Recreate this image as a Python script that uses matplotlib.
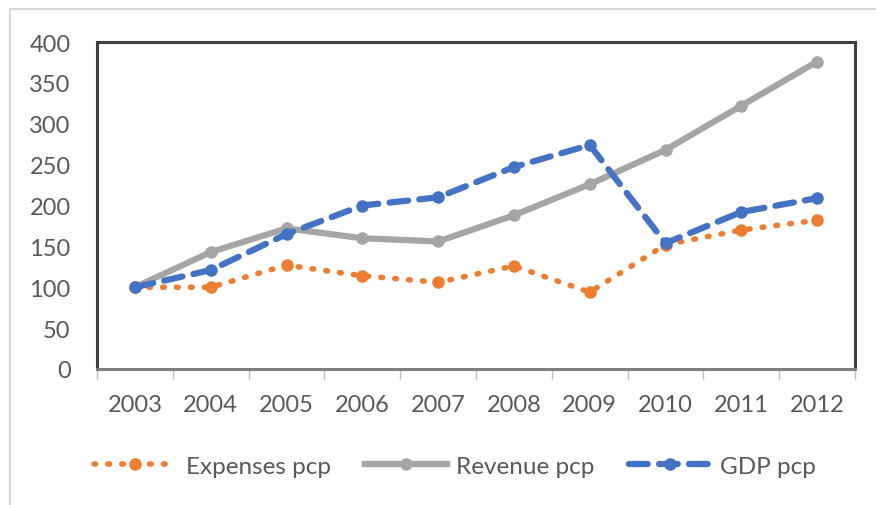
import matplotlib.pyplot as plt
from matplotlib.patches import Rectangle

years = ['2003', '2004', '2005', '2006', '2007', '2008', '2009', '2010', '2011', '2012']
expenses = [100, 100, 127, 114, 106, 126, 94, 152, 170, 182]
revenue = [100, 143, 172, 160, 156, 188, 226, 268, 322, 376]
gdp = [100, 121, 165, 200, 210, 247, 274, 154, 192, 209]

plt.rcParams['font.family'] = ['Lato', 'DejaVu Sans']

fig = plt.figure(figsize=(8.76, 5.06), dpi=100)
fig.patches.append(Rectangle((10/876, -0.1), 1.2, 1.1 - 10/506, transform=fig.transFigure,
                             fill=False, edgecolor='#D9D9D9', linewidth=1.5))
ax = fig.add_axes([97/876, 136/506, 758/876, 327/506])

x = list(range(len(years)))
c_exp = '#ED7D31'
c_rev = '#A5A5A5'
c_gdp = '#4472C4'

ax.plot(x, expenses, color=c_exp, linestyle=(0, (0.3, 2.2)), dash_capstyle='round',
        linewidth=4, marker='o', markersize=8, label='Expenses pcp', zorder=3)
ax.plot(x, revenue, color=c_rev, linestyle='-', linewidth=4.5, marker='o', markersize=8,
        label='Revenue pcp', zorder=2)
ax.plot(x, gdp, color=c_gdp, linestyle=(0, (3, 1.8)), dash_capstyle='round', linewidth=4.5,
        marker='o', markersize=8, label='GDP pcp', zorder=4)

ax.set_xlim(-0.5, len(years) - 0.5)
ax.set_ylim(0, 400)
ax.set_yticks(range(0, 401, 50))
ax.set_xticks(x)
ax.set_xticklabels(years)
ax.set_xticks([i + 0.5 for i in range(-1, len(years))], minor=True)
ax.tick_params(axis='x', which='major', length=0, pad=18, labelsize=17, labelcolor='#595959')
ax.tick_params(axis='x', which='minor', length=7, color='#BFBFBF', width=1)
ax.tick_params(axis='y', length=0, pad=19, labelsize=17, labelcolor='#595959')

for s in ax.spines.values():
    s.set_color('#404040')
    s.set_linewidth(2.2)
ax.spines['bottom'].set_color('#7F7F7F')

leg = fig.legend(loc='center', bbox_to_anchor=(455/876, 1 - 467/506), ncol=3, frameon=False,
                 fontsize=17.5, handlelength=3.4, columnspacing=1.4, handletextpad=0.37,
                 labelcolor='#595959')
fig.savefig('out.png', dpi=100)
